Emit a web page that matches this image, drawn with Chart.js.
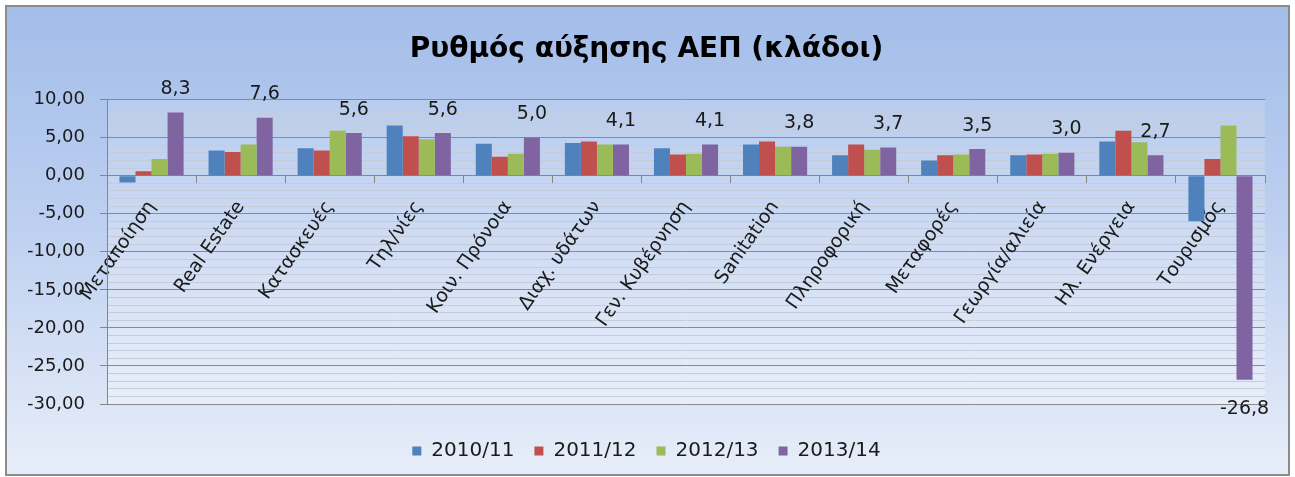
<!DOCTYPE html>
<html>
<head>
<meta charset="utf-8">
<script src="https://cdn.jsdelivr.net/npm/chart.js@4/dist/chart.umd.min.js"></script>
<style>
  html, body { margin: 0; padding: 0; background: #fff; }
  #wrap { position: relative; width: 1295px; height: 477px; }
</style>
</head>
<body>
<div id="wrap"><canvas id="gdpChart" width="1295" height="477"></canvas></div>
<script>
const sectors = ['Μεταποίηση', 'Real Estate', 'Κατασκευές', 'Τηλ/νίες', 'Κοιν. Πρόνοια', 'Διαχ. υδάτων',
    'Γεν. Κυβέρνηση', 'Sanitation', 'Πληροφορική', 'Μεταφορές', 'Γεωργία/αλιεία', 'Ηλ. Ενέργεια', 'Τουρισμός'];
const years = ['2010/11', '2011/12', '2012/13', '2013/14'];
const growth1011 = [-0.9, 3.3, 3.6, 6.6, 4.2, 4.3, 3.6, 4.1, 2.7, 2.0, 2.7, 4.5, -6.0];
const growth1112 = [0.6, 3.1, 3.3, 5.2, 2.5, 4.5, 2.8, 4.5, 4.1, 2.7, 2.8, 5.9, 2.2];
const growth1213 = [2.2, 4.1, 5.9, 4.8, 2.9, 4.1, 2.9, 3.8, 3.4, 2.8, 2.9, 4.4, 6.6];
const growth1314 = [8.3, 7.6, 5.6, 5.6, 5.0, 4.1, 4.1, 3.8, 3.7, 3.5, 3.0, 2.7, -26.8];
const colors = ['#4F81BD', '#C0504D', '#9BBB59', '#8064A2'];

const FONT = 'DejaVu Sans';

// frame + plot area background like the Excel original
const backgroundPlugin = {
    id: 'background',
    beforeDraw(chart) {
        const {ctx, chartArea: a} = chart;
        ctx.save();
        ctx.fillStyle = '#ffffff';
        ctx.fillRect(0, 0, chart.width, chart.height);
        const g = ctx.createLinearGradient(0, 6, 0, 475);
        g.addColorStop(0, '#a3bde9');
        g.addColorStop(0.45, '#bccff0');
        g.addColorStop(1, '#e8eef9');
        ctx.fillStyle = g;
        ctx.fillRect(6, 6, 1283, 469);
        const pg = ctx.createLinearGradient(0, a.top, 0, a.bottom);
        pg.addColorStop(0, 'rgba(255,255,255,0.12)');
        pg.addColorStop(1, 'rgba(255,255,255,0.35)');
        ctx.fillStyle = pg;
        ctx.fillRect(a.left, a.top, a.right - a.left, a.bottom - a.top);
        ctx.strokeStyle = '#8c8c8c';
        ctx.lineWidth = 2;
        ctx.strokeRect(6, 6, 1283, 469);
        ctx.restore();
    }
};

// value labels for the last series only
const valueLabels = {
    id: 'valueLabels',
    afterDatasetsDraw(chart) {
        const {ctx} = chart;
        const meta = chart.getDatasetMeta(3);
        ctx.save();
        ctx.font = '19px "' + FONT + '"';
        ctx.fillStyle = '#1a1a1a';
        ctx.textAlign = 'center';
        meta.data.forEach((bar, i) => {
            const v = growth1314[i];
            const txt = v.toFixed(1).replace('.', ',');
            if (v >= 0) {
                ctx.textBaseline = 'bottom';
                ctx.fillText(txt, bar.x, bar.y - 14);
            } else {
                ctx.textBaseline = 'top';
                ctx.fillText(txt, bar.x, bar.y + 20);
            }
        });
        ctx.restore();
    }
};

const series = [growth1011, growth1112, growth1213, growth1314];

new Chart(document.getElementById('gdpChart'), {
    type: 'bar',
    data: {
        labels: sectors,
        datasets: series.map((d, i) => ({
            label: years[i],
            data: d,
            backgroundColor: colors[i],
            barPercentage: 1.0,
            categoryPercentage: 0.72
        }))
    },
    options: {
        responsive: false,
        animation: false,
        layout: { padding: { left: 28, right: 30, top: 8, bottom: 6 } },
        plugins: {
            tooltip: { enabled: false },
            title: {
                display: true,
                text: 'Ρυθμός αύξησης ΑΕΠ (κλάδοι)',
                color: '#000',
                font: { family: FONT, size: 28, weight: 'bold' },
                padding: { top: 25, bottom: 33 }
            },
            legend: {
                position: 'bottom',
                title: { display: true, text: '', font: { size: 10 }, padding: { top: 0, bottom: 5 } },
                labels: {
                    color: '#1a1a1a',
                    font: { family: FONT, size: 20 },
                    boxWidth: 9,
                    boxHeight: 9,
                    padding: 20
                }
            }
        },
        scales: {
            x: {
                position: { y: 0 },
                grid: { drawOnChartArea: false, drawTicks: true, tickLength: 7, color: '#868686', offset: true },
                border: { color: '#868686' },
                ticks: {
                    color: '#1a1a1a',
                    font: { family: FONT, size: 19 },
                    minRotation: 55,
                    maxRotation: 55,
                    autoSkip: false,
                    padding: 14
                }
            },
            y: {
                min: -30,
                max: 10,
                afterFit(scale) { scale.width = 79; },
                border: { color: '#868686' },
                grid: {
                    tickLength: 7,
                    color: c => (c.tick && c.tick.value % 5 === 0) ? '#8a8a8a' : '#c5ccd8',
                    tickColor: c => (c.tick && c.tick.value % 5 === 0) ? '#868686' : 'rgba(0,0,0,0)'
                },
                ticks: {
                    stepSize: 1,
                    autoSkip: false,
                    padding: 15,
                    color: '#1a1a1a',
                    font: { family: FONT, size: 18 },
                    callback: v => (v % 5 === 0) ? v.toFixed(2).replace('.', ',') : ''
                }
            }
        }
    },
    plugins: [backgroundPlugin, valueLabels]
});
</script>
</body>
</html>
